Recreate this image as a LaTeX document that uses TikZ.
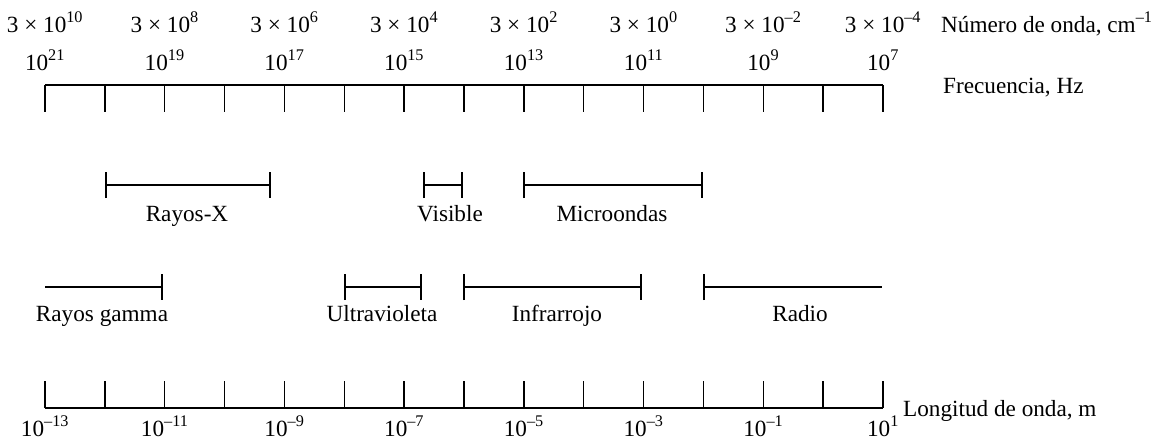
\documentclass[tikz,border=0pt]{standalone}
\usepackage{fontspec}
\setmainfont{Liberation Serif}
\usepackage{tikz}
\usetikzlibrary{arrows.meta, positioning}

\newcommand{\tenexp}[1]{10\textsuperscript{#1}}

\begin{document}
\begin{tikzpicture}[
        x=1pt, y=-1pt,
        font=\fontsize{23.2}{27}\selectfont, % one size for every text
        scaleline/.style={line width=1.4pt},
        band/.style={line width=2.4pt},
        bandends/.style={band, {Bar[width=26pt,line width=2pt]}-{Bar[width=26pt,line width=2pt]}},
        lbl/.style={anchor=base, inner sep=0pt},
        sidelbl/.style={anchor=base west, inner sep=0pt},
    ]

    % --- INTERNAL FIGURE PARAMETERS ---
    \pgfmathsetmacro{\axisleft}{45}
    \pgfmathsetmacro{\tickstep}{59.857}
    \pgfmathsetmacro{\topaxisy}{85}
    \pgfmathsetmacro{\bottomaxisy}{408}
    \pgfmathsetmacro{\ticklength}{27}
    \pgfmathsetmacro{\rowoney}{185}
    \pgfmathsetmacro{\rowtwoy}{287}

    \useasboundingbox (0,0) rectangle (1154,440);

    % Tick positions
    \foreach \i in {0,...,14}{
        \coordinate (t\i) at ({\axisleft+\i*\tickstep},0);
    }
    \coordinate (topaxis) at (0,\topaxisy);
    \coordinate (bottomaxis) at (0,\bottomaxisy);

    % Frequency scale (top)
    \draw[scaleline] (t0 |- topaxis) -- (t14 |- topaxis);
    \foreach \i in {0,...,14}{
        \draw[scaleline] (t\i |- topaxis) -- ++(0,\ticklength);
    }

    % Wavelength scale (bottom)
    \draw[scaleline] (t0 |- bottomaxis) -- (t14 |- bottomaxis);
    \foreach \i in {0,...,14}{
        \draw[scaleline] (t\i |- bottomaxis) -- ++(0,-\ticklength);
    }

    % Tick labels: wave number, frequency, wavelength
    \foreach \i/\wn/\fq/\wl in {0/10/21/--13, 2/8/19/--11, 4/6/17/--9, 6/4/15/--7,
                               8/2/13/--5, 10/0/11/--3, 12/--2/9/--1, 14/--4/7/1}{
        \node[lbl] (wn\i) at ({\axisleft+\i*\tickstep},32) {3 × \tenexp{\wn}};
        \node[lbl] (fq\i) at ({\axisleft+\i*\tickstep},70) {\tenexp{\fq}};
        \node[lbl] (wl\i) at ({\axisleft+\i*\tickstep},436) {\tenexp{\wl}};
    }

    % Scale names
    \node[sidelbl] (wavenumber) at (941,32) {Número de onda, cm\textsuperscript{--1}};
    \node[sidelbl] (frequency) at (943,93) {Frecuencia, Hz};
    \node[sidelbl] (wavelength) at (903,416) {Longitud de onda, m};

    % First row of regions
    \draw[bandends] (105,\rowoney) -- (271,\rowoney);
    \node[lbl] (xray) at (187,221) {Rayos-X};
    \draw[bandends] (423,\rowoney) -- (463,\rowoney);
    \node[lbl] (visible) at (450,221) {Visible};
    \draw[bandends] (523,\rowoney) -- (703,\rowoney);
    \node[lbl] (microwave) at (612,221) {Microondas};

    % Second row of regions
    \draw[band, -{Bar[width=26pt,line width=2pt]}] (45,\rowtwoy) -- (163,\rowtwoy);
    \node[lbl] (gamma) at (102,321) {Rayos gamma};
    \draw[bandends] (344,\rowtwoy) -- (422,\rowtwoy);
    \node[lbl] (ultraviolet) at (382,321) {Ultravioleta};
    \draw[bandends] (463,\rowtwoy) -- (642,\rowtwoy);
    \node[lbl] (infrared) at (557,321) {Infrarrojo};
    \draw[band, {Bar[width=26pt,line width=2pt]}-] (703,\rowtwoy) -- (882,\rowtwoy);
    \node[lbl] (radio) at (800,321) {Radio};

\end{tikzpicture}
\end{document}
